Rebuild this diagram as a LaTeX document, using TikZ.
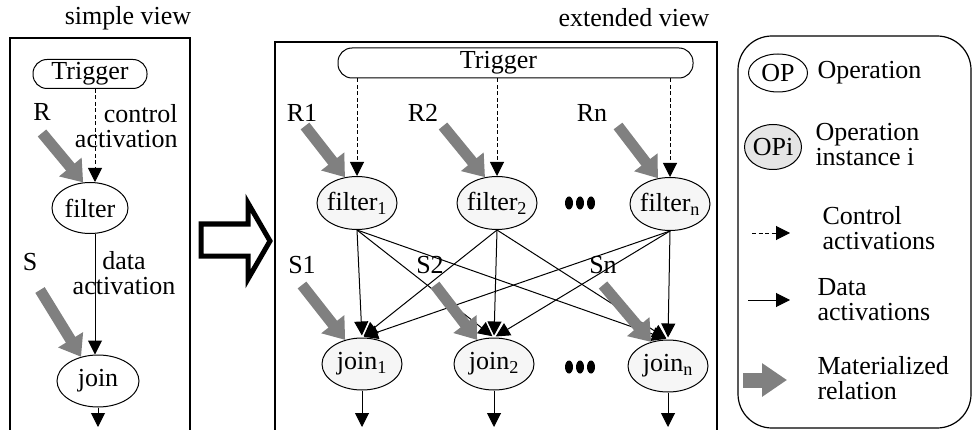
\documentclass[tikz,border=0pt]{standalone}
\usepackage{fontspec}
\setmainfont{Liberation Serif}
\usetikzlibrary{shapes.geometric, arrows.meta, positioning}

\begin{document}
\begin{tikzpicture}[x=1pt, y=-1pt, line width=1pt, font=\fontsize{26}{25}\selectfont,
  frame/.style={line width=2.8pt},
  opnode/.style={ellipse, draw, inner xsep=-4pt, inner ysep=0pt, minimum width=76pt, minimum height=51pt},
  inst/.style={opnode, fill=gray!7, minimum width=80pt, minimum height=53pt},
  trig/.style={draw, rounded corners=14pt, minimum height=29pt, inner sep=0pt},
  ctrl/.style={dash pattern=on 4pt off 2.5pt, -{Triangle[length=14pt,width=14pt]}},
  data/.style={-{Triangle[length=14pt,width=14pt]}},
  rel/.style={color=gray, line width=11pt, -{Triangle[length=20pt,width=28pt]}},
  lbl/.style={align=left, anchor=west, inner sep=0pt}]
\useasboundingbox (0,0) rectangle (973,430);

% simple view
\node (tsimple) at (128,18) {simple view};
\draw[frame] (10,432) -- (10,38) -- (190,38) -- (190,432);
\node[trig, minimum width=114pt] (trig0) at (90,74) {Trigger};
\node[opnode] (filt0) at (90,208) {filter};
\node[opnode, minimum width=82pt, minimum height=52pt] (join0) at (98,381) {join};
\coordinate (out0) at (98,427);
\coordinate (r0) at (42,133);
\coordinate (s0) at (40,290);

\draw[ctrl] ([xshift=5pt]trig0.south) -- ([xshift=5pt]filt0.north);
\draw[data] ([xshift=5pt]filt0.south) -- ([xshift=-3pt]join0.north);
\draw[data] (join0.south) -- (out0);
\draw[rel] (r0) -- (filt0.105);
\draw[rel] (s0) -- (join0.125);

\node (lr0) at (42,112) {R};
\node (ls0) at (30,262) {S};
\node[align=right, anchor=east, inner sep=0pt] (lctl0) at (178,126) {control\\activation};
\node[align=center, inner sep=0pt] (ldat0) at (124,273) {data\\activation};

% arrow between the views
\draw[line width=5pt, line join=miter] (201,224) -- (248,224) -- (248,203) -- (270,241)
  -- (248,279) -- (248,256) -- (201,256) -- cycle;

% extended view
\node (text) at (634,18) {extended view};
\draw[frame] (275,432) -- (275,42) -- (717,42) -- (717,432);
\node[trig, minimum width=355pt, minimum height=30pt] (trig1) at (515.5,63) {\hspace*{-34pt}Trigger};

\node[inst] (filt1) at (357,203) {filter\textsubscript{1}};
\node[inst] (filt2) at (497,203) {filter\textsubscript{2}};
\node[inst] (filtn) at (670,204) {filter\textsubscript{n}};
\node[inst, minimum height=52pt] (join1) at (362,364) {join\textsubscript{1}};
\node[inst, minimum height=52pt] (join2) at (494,364) {join\textsubscript{2}};
\node[inst, minimum height=52pt] (joinn) at (668,366) {join\textsubscript{n}};

\foreach \f in {filt1,filt2,filtn}
  \draw[ctrl] (trig1.south -| \f.north) -- (\f.north);
\foreach \f in {filt1,filt2,filtn}
  \foreach \j in {join1,join2,joinn}
    \draw[data, shorten >=2pt] (\f.south) -- (\j.north);

\foreach \j/\x in {join1/362,join2/494,joinn/668}{
  \coordinate (out-\j) at (\x,427);
  \draw[data] (\j.south) -- (out-\j);
}

\foreach \y in {203,367}
  \foreach \x in {569,580,591}
    \fill (\x,\y) ellipse (4pt and 6.5pt);

\coordinate (r1) at (305,126);
\coordinate (r2) at (443,126);
\coordinate (rn) at (618,126);
\coordinate (s1) at (302,285);
\coordinate (s2) at (435,285);
\coordinate (sn) at (603,285);
\draw[rel] (r1) -- (filt1.115);
\draw[rel] (r2) -- (filt2.115);
\draw[rel] (rn) -- (filtn.115);
\draw[rel] (s1) -- (join1.125);
\draw[rel] (s2) -- (join2.125);
\draw[rel] (sn) -- (joinn.125);

\node (lr1) at (302,113) {R1};
\node (lr2) at (423,113) {R2};
\node (lrn) at (592,113) {Rn};
\node (ls1) at (302,265) {S1};
\node (ls2) at (430,265) {S2};
\node (lsn) at (603,265) {Sn};

% legend
\draw[line width=1.2pt, rounded corners=34pt] (738,36) rectangle (971,428);
\node[opnode, minimum width=59pt, minimum height=38pt, fill=white] (lop) at (778,73) {OP};
\node[lbl] (top) at (817,73) {Operation};
\node[opnode, minimum width=57pt, minimum height=45pt, fill=gray!20] (lopi) at (773,147) {OPi};
\node[lbl] (topi) at (815,145) {Operation\\instance i};

\coordinate (c1) at (752,233);
\coordinate[right=38pt of c1] (c2);
\draw[ctrl] (c1) -- (c2);
\node[lbl] (tctl) at (822,228) {Control\\activations};

\coordinate (d1) at (748,300);
\coordinate[right=42pt of d1] (d2);
\draw[data] (d1) -- (d2);
\node[lbl] (tdat) at (817,300) {Data\\activations};

\coordinate (m1) at (743,380);
\coordinate[right=44pt of m1] (m2);
\draw[rel, line width=15pt, -{Triangle[length=25pt,width=32pt]}] (m1) -- (m2);
\node[lbl] (tmat) at (817,378) {Materialized\\relation};
\end{tikzpicture}
\end{document}
